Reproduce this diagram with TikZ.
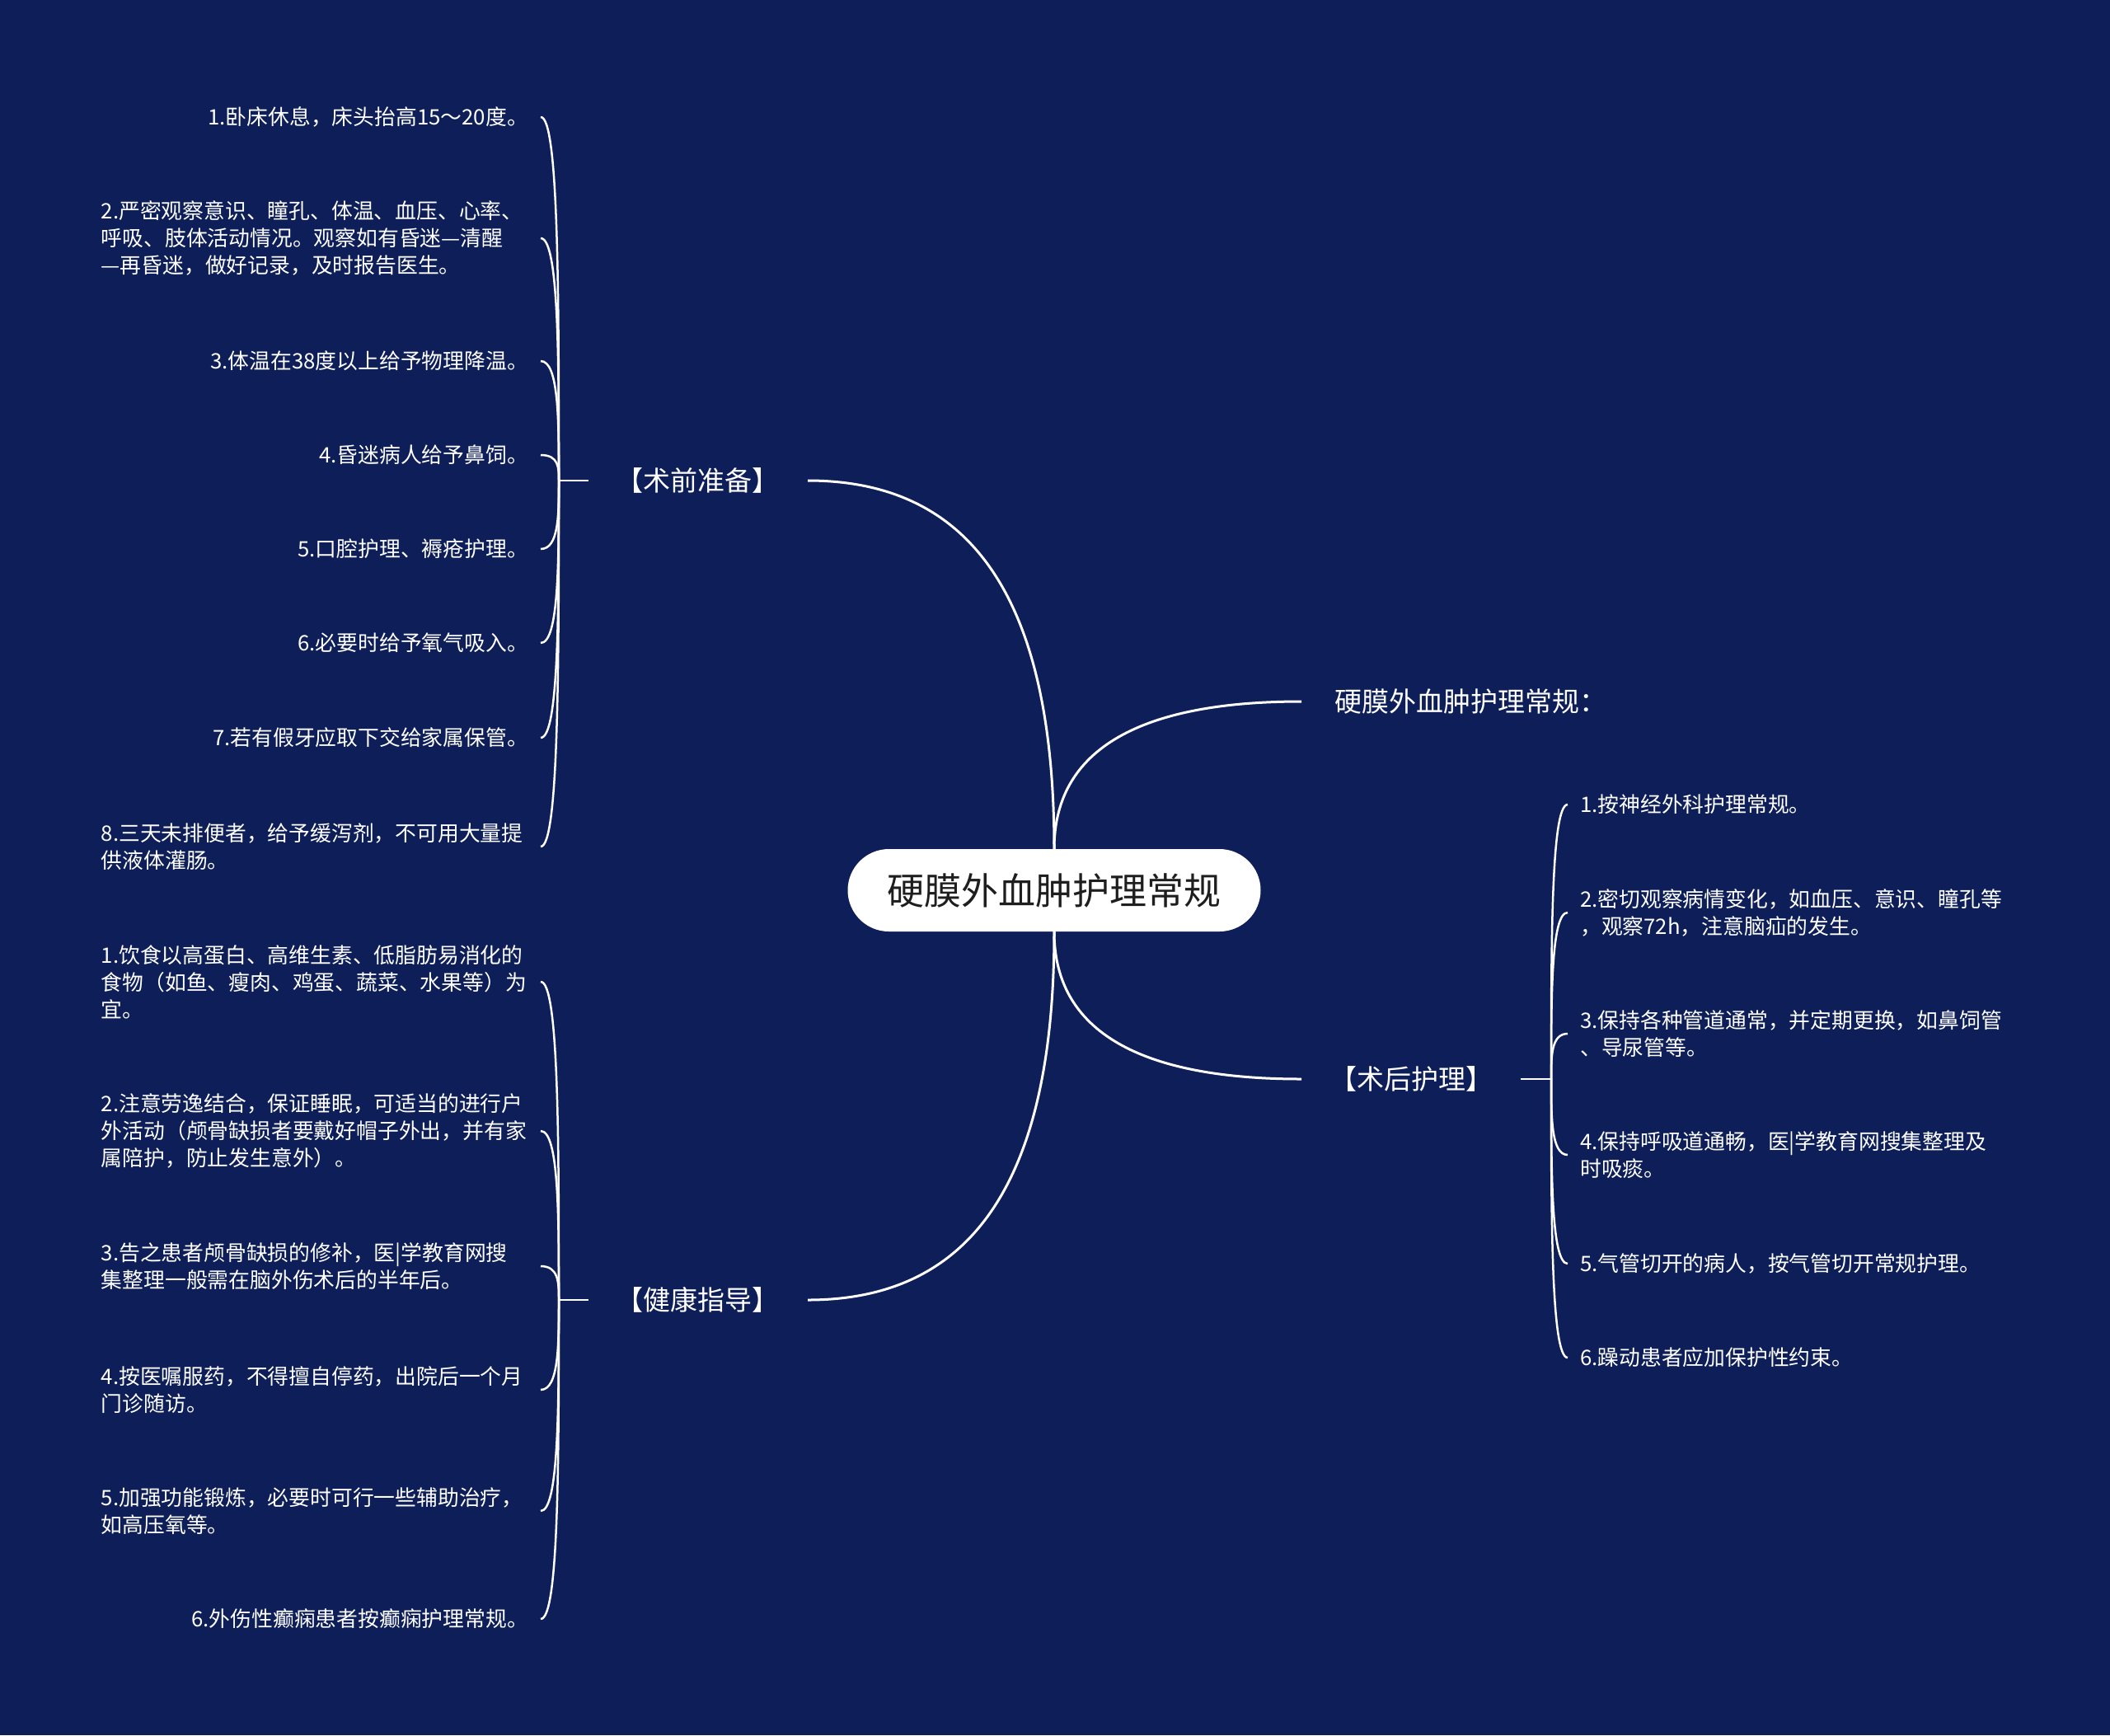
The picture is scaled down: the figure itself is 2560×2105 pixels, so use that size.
\documentclass[tikz,border=0pt]{standalone}
\usepackage{fontspec}
\setmainfont{Noto Sans CJK SC}
\usepackage{xcolor}
\usepackage{tikz}
\usetikzlibrary{calc}

\definecolor{mapbg}{HTML}{0D1E58}
\definecolor{rootink}{HTML}{1E1E1E}

\begin{document}
\begin{tikzpicture}[
    x=1pt, y=-1pt,
    root/.style={rectangle, fill=white, rounded corners=50pt, minimum width=501pt, minimum height=100pt, text=rootink, font=\fontsize{45}{54}\selectfont},
    topic/.style={text=white, inner xsep=34pt, font=\fontsize{33}{40}\selectfont},
    leaf/.style={text=white, inner xsep=15pt, inner ysep=3pt, align=left, font=\fontsize{25.8}{33}\selectfont},
    wideleaf/.style={leaf, text width=518pt},
    branch/.style={draw=white, line width=3pt},
    twig/.style={draw=white, line width=2.5pt, to path={.. controls ($(\tikztostart)!0.5!(\tikztostart |- \tikztotarget)$) and (\tikztostart |- \tikztotarget) .. (\tikztotarget)}}
]
    % Background - fixes the page size
    \fill[mapbg] (0,0) rectangle (2560,2105);

    % Root and topics
    \node[root] (root) at (1279,1080) {硬膜外血肿护理常规};
    \node[topic, anchor=east] (pre) at (980,583) {【术前准备】};
    \node[topic, anchor=west, inner xsep=40pt] (title) at (1579,851) {硬膜外血肿护理常规：};
    \node[topic, anchor=west] (post) at (1579,1309) {【术后护理】};
    \node[topic, anchor=east] (edu) at (980,1577) {【健康指导】};

    % Junctions at the end of the short stubs
    \coordinate (jPre) at (678,583);
    \coordinate (jEdu) at (678,1577);
    \coordinate (jPost) at (1882,1309);

    % Leaves - 术前准备
    \node[leaf, anchor=east] (p1) at (656,142) {1.卧床休息，床头抬高15～20度。};
    \node[wideleaf, anchor=east] (p2) at (656,289) {2.严密观察意识、瞳孔、体温、血压、心率、\\呼吸、肢体活动情况。观察如有昏迷—清醒\\—再昏迷，做好记录，及时报告医生。};
    \node[leaf, anchor=east] (p3) at (656,438) {3.体温在38度以上给予物理降温。};
    \node[leaf, anchor=east] (p4) at (656,552) {4.昏迷病人给予鼻饲。};
    \node[leaf, anchor=east] (p5) at (656,666) {5.口腔护理、褥疮护理。};
    \node[leaf, anchor=east] (p6) at (656,780) {6.必要时给予氧气吸入。};
    \node[leaf, anchor=east] (p7) at (656,895) {7.若有假牙应取下交给家属保管。};
    \node[wideleaf, anchor=east] (p8) at (656,1027) {8.三天未排便者，给予缓泻剂，不可用大量提\\供液体灌肠。};

    % Leaves - 健康指导
    \node[wideleaf, anchor=east] (e1) at (656,1191) {1.饮食以高蛋白、高维生素、低脂肪易消化的\\食物（如鱼、瘦肉、鸡蛋、蔬菜、水果等）为\\宜。};
    \node[wideleaf, anchor=east] (e2) at (656,1372) {2.注意劳逸结合，保证睡眠，可适当的进行户\\外活动（颅骨缺损者要戴好帽子外出，并有家\\属陪护，防止发生意外）。};
    \node[wideleaf, anchor=east] (e3) at (656,1536) {3.告之患者颅骨缺损的修补，医|学教育网搜\\集整理一般需在脑外伤术后的半年后。};
    \node[wideleaf, anchor=east] (e4) at (656,1686) {4.按医嘱服药，不得擅自停药，出院后一个月\\门诊随访。};
    \node[wideleaf, anchor=east] (e5) at (656,1833) {5.加强功能锻炼，必要时可行一些辅助治疗，\\如高压氧等。};
    \node[leaf, anchor=east] (e6) at (656,1964) {6.外伤性癫痫患者按癫痫护理常规。};

    % Leaves - 术后护理
    \node[leaf, anchor=west] (r1) at (1902,976) {1.按神经外科护理常规。};
    \node[leaf, anchor=west] (r2) at (1902,1107) {2.密切观察病情变化，如血压、意识、瞳孔等\\，观察72h，注意脑疝的发生。};
    \node[leaf, anchor=west] (r3) at (1902,1254) {3.保持各种管道通常，并定期更换，如鼻饲管\\、导尿管等。};
    \node[leaf, anchor=west] (r4) at (1902,1401) {4.保持呼吸道通畅，医|学教育网搜集整理及\\时吸痰。};
    \node[leaf, anchor=west] (r5) at (1902,1533) {5.气管切开的病人，按气管切开常规护理。};
    \node[leaf, anchor=west] (r6) at (1902,1647) {6.躁动患者应加保护性约束。};

    % Main branches
    \draw[branch] (root.north) .. controls ($(root.north)+(0,-330)$) and ($(pre.east)+(180,0)$) .. (pre.east);
    \draw[branch] (root.north) .. controls ($(root.north)+(0,-130)$) and ($(title.west)+(-180,0)$) .. (title.west);
    \draw[branch] (root.south) .. controls ($(root.south)+(0,130)$) and ($(post.west)+(-180,0)$) .. (post.west);
    \draw[branch] (root.south) .. controls ($(root.south)+(0,330)$) and ($(edu.east)+(180,0)$) .. (edu.east);

    % Stubs
    \draw[branch, line width=2.5pt] (pre.west) -- (jPre);
    \draw[branch, line width=2.5pt] (edu.west) -- (jEdu);
    \draw[branch, line width=2.5pt] (post.east) -- (jPost);

    % Twigs to the leaves
    \draw[twig] (jPre) to (p1.east);
    \draw[twig] (jPre) to (p2.east);
    \draw[twig] (jPre) to (p3.east);
    \draw[twig] (jPre) to (p4.east);
    \draw[twig] (jPre) to (p5.east);
    \draw[twig] (jPre) to (p6.east);
    \draw[twig] (jPre) to (p7.east);
    \draw[twig] (jPre) to (p8.east);
    \draw[twig] (jEdu) to (e1.east);
    \draw[twig] (jEdu) to (e2.east);
    \draw[twig] (jEdu) to (e3.east);
    \draw[twig] (jEdu) to (e4.east);
    \draw[twig] (jEdu) to (e5.east);
    \draw[twig] (jEdu) to (e6.east);
    \draw[twig] (jPost) to (r1.west);
    \draw[twig] (jPost) to (r2.west);
    \draw[twig] (jPost) to (r3.west);
    \draw[twig] (jPost) to (r4.west);
    \draw[twig] (jPost) to (r5.west);
    \draw[twig] (jPost) to (r6.west);

\end{tikzpicture}
\end{document}
